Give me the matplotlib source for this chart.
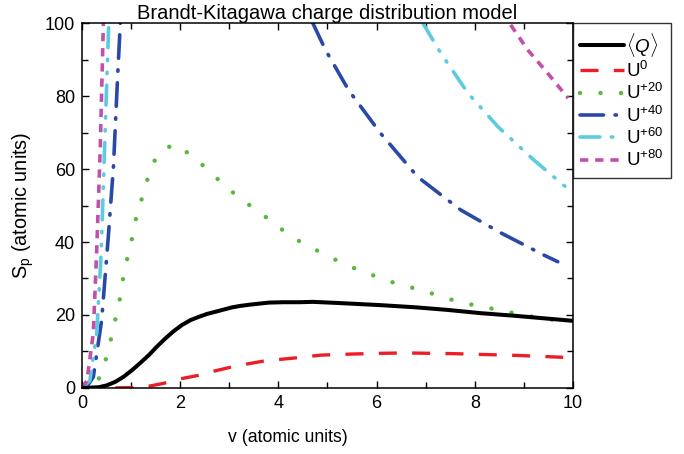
import numpy as np
import matplotlib
matplotlib.use("Agg")
import matplotlib.pyplot as plt
from matplotlib.ticker import MultipleLocator

plt.rcParams['font.family'] = ['Liberation Sans', 'DejaVu Sans']
plt.rcParams['mathtext.fontset'] = 'custom'
plt.rcParams['mathtext.rm'] = 'Liberation Sans'
plt.rcParams['mathtext.it'] = 'Liberation Sans:italic'

title = "Brandt-Kitagawa charge distribution model"
xlabel = "v (atomic units)"
ylabel = r"S$_\mathrm{p}$ (atomic units)"

nan = np.nan

q_v = [0.0, 0.34, 0.5, 0.68, 0.85, 1.02, 1.19, 1.36, 1.53, 1.70, 1.87, 2.04, 2.21, 2.38,
       2.55, 2.72, 2.89, 3.06, 3.23, 3.40, 3.6, 3.81, 4.1, 4.42, 4.7, 5.2, 6.08, 6.8,
       7.44, 8.12, 8.8, 9.4, 10.0]
q_s = [0.0, 0.2, 0.7, 1.7, 3.1, 4.9, 6.9, 9.0, 11.4, 13.6, 15.6, 17.3, 18.6, 19.5,
       20.3, 20.9, 21.5, 22.1, 22.5, 22.8, 23.1, 23.4, 23.5, 23.5, 23.6, 23.3, 22.7, 22.1,
       21.4, 20.5, 19.8, 19.1, 18.4]

u0_v = [0.0, 0.5, 1.0, 1.33, 1.67, 2.0, 2.35, 2.65, 3.03, 3.37, 3.71, 4.01, 4.39, 4.86,
        5.5, 6.08, 6.6, 7.1, 7.6, 8.1, 8.7, 9.3, 9.8]
u0_s = [0.0, 0.0, 0.1, 0.4, 1.3, 2.5, 3.4, 4.5, 5.7, 6.6, 7.4, 7.8, 8.3, 9.0,
        9.3, 9.5, 9.6, 9.5, 9.4, 9.2, 9.0, 8.7, 8.4]

u20_v = [0.0, 0.2, 0.37, 0.5, 0.6, 0.69, 0.78, 0.84, 0.93, 1.02, 1.1, 1.22, 1.34, 1.5,
         1.84, 2.24, 2.65, 3.06, 3.47, 3.88, 4.24, 4.65, 5.06, 5.47, 5.88, 6.29, 6.69,
         7.1, 7.47, 7.88, 8.29, 8.69, 9.1, 9.5, 9.9]
u20_s = [0.0, 0.5, 3.0, 8.5, 14.0, 19.5, 25.0, 30.4, 36.0, 41.0, 46.5, 52.0, 57.5, 63.0,
         66.8, 63.8, 58.6, 53.7, 49.5, 45.5, 41.6, 38.6, 35.8, 33.2, 31.1, 29.1, 27.6,
         26.0, 24.4, 23.0, 21.9, 20.8, 19.7, 18.9, 17.9]

u40_v = [0.0, 0.12, 0.23, 0.4, 0.53, 0.64, 0.73, 0.78, nan,
         4.7, 4.96, 5.43, 6.08, 6.84, 7.71, 8.53, 9.41, 9.69]
u40_s = [0.0, 0.8, 3.0, 18.6, 40.5, 60.6, 86.6, 100.0, nan,
         100.0, 92.6, 81.6, 69.8, 57.8, 48.8, 42.5, 36.4, 34.6]

u60_v = [0.0, 0.16, 0.3, 0.39, 0.47, 0.545, nan,
         6.94, 7.31, 7.86, 8.47, 9.2, 10.0]
u60_s = [0.0, 2.0, 15.0, 37.0, 70.0, 100.0, nan,
         100.0, 91.7, 80.8, 71.6, 62.5, 53.4]

u80_v = [0.0, 0.1, 0.23, 0.3, 0.37, 0.435, nan,
         8.73, 9.08, 9.5, 9.9]
u80_s = [0.0, 2.0, 15.0, 38.0, 65.0, 100.0, nan,
         99.5, 92.6, 86.0, 79.4]

fig = plt.figure(figsize=(6.84, 4.54), dpi=100)
ax = fig.add_axes([0.1199, 0.1454, 0.7178, 0.8039])

ax.plot(q_v, q_s, color='black', lw=2.9, solid_capstyle='round', solid_joinstyle='round',
        label=r'$\langle \mathit{Q} \rangle$', zorder=5)
ax.plot(u0_v, u0_s, color='#ee1c24', lw=2.4, linestyle=(0, (5.4, 4.6)),
        label=r'U$^{0}$')
ax.plot(u20_v, u20_s, color='#5ab83c', lw=3.2, linestyle=(0, (0.01, 4.6)),
        dash_capstyle='round', label=r'U$^{+20}$')
ax.plot(u40_v, u40_s, color='#2a49a6', lw=2.6, linestyle=(0, (6.5, 3.2, 0.4, 3.2)),
        dash_capstyle='round', label=r'U$^{+40}$')
ax.plot(u60_v, u60_s, color='#5ccbe0', lw=2.6, linestyle=(0, (5.5, 3.2, 0.4, 3.2, 0.4, 3.2)),
        dash_capstyle='round', label=r'U$^{+60}$')
ax.plot(u80_v, u80_s, color='#c150a8', lw=2.6, linestyle=(0, (2.3, 1.9)),
        label=r'U$^{+80}$')

ax.set_xlim(0, 10)
ax.set_ylim(0, 100)
ax.xaxis.set_major_locator(MultipleLocator(2))
ax.xaxis.set_minor_locator(MultipleLocator(1))
ax.yaxis.set_major_locator(MultipleLocator(20))
ax.yaxis.set_minor_locator(MultipleLocator(10))
ax.tick_params(which='both', direction='in', top=True, right=True, labelsize=13, width=1)
ax.tick_params(which='major', length=5, pad=5)
ax.tick_params(which='minor', length=4)
for sp in ax.spines.values():
    sp.set_linewidth(1.1)

ax.set_title(title, fontsize=14.5, pad=3)
ax.set_xlabel(xlabel, fontsize=12.7)
ax.xaxis.set_label_coords(0.42, -0.113)
ax.set_ylabel(ylabel, fontsize=14.3, labelpad=6)

leg = ax.legend(loc='upper left', bbox_to_anchor=(1.0, 1.0), borderaxespad=0,
                fontsize=13.5, frameon=True, fancybox=False, edgecolor='black',
                handlelength=2.3, handletextpad=0.15, labelspacing=0.12,
                borderpad=0.4)
leg.get_frame().set_linewidth(1.0)

fig.savefig('out.png', dpi=100)
